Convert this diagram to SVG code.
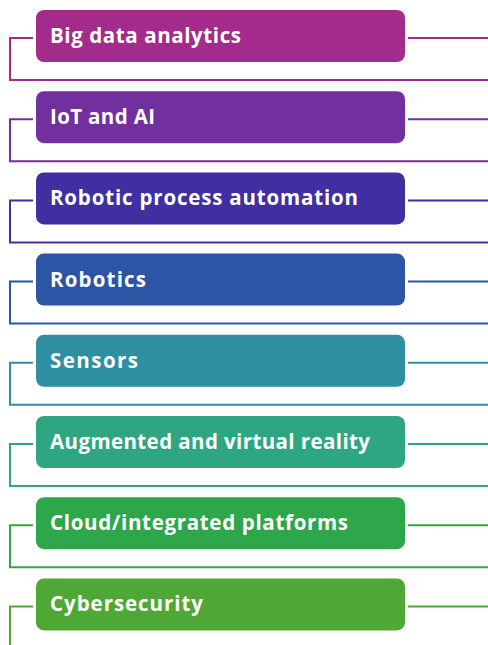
<svg xmlns="http://www.w3.org/2000/svg" width="488" height="645" viewBox="0 0 488 645">
  <style>
    .box { stroke: none; }
    .label { font-family: "Open Sans", "Liberation Sans", Arial, sans-serif; font-weight: bold; font-size: 20.5px; fill: #ffffff; }
    .wire { fill: none; stroke-width: 2; }
  </style>
  <rect width="488" height="645" fill="#ffffff"/>

  <!-- bracket connectors: left stub down to a full-width rule, plus a right tail -->
  <g id="connectors">
    <path class="wire" stroke="#A22B8C" d="M33 38 H10 V80 H488 M408 38 H488"/>
    <path class="wire" stroke="#72309E" d="M33 119.2 H10 V161.2 H488 M408 119.2 H488"/>
    <path class="wire" stroke="#3F2FA0" d="M33 200.4 H10 V242.4 H488 M408 200.4 H488"/>
    <path class="wire" stroke="#2D55A6" d="M33 281.6 H10 V323.6 H488 M408 281.6 H488"/>
    <path class="wire" stroke="#2E8FA3" d="M33 362.8 H10 V404.8 H488 M408 362.8 H488"/>
    <path class="wire" stroke="#2DA681" d="M33 444 H10 V486 H488 M408 444 H488"/>
    <path class="wire" stroke="#2EA64A" d="M33 525.2 H10 V567.2 H488 M408 525.2 H488"/>
    <path class="wire" stroke="#4FA835" d="M33 606.4 H10 V645 M408 606.4 H488"/>
  </g>

  <g id="big-data-analytics">
    <rect class="box" x="36" y="10" width="369" height="52" rx="8" fill="#A22B8C"/>
    <text class="label" x="50" y="43" textLength="191">Big data analytics</text>
  </g>
  <g id="iot-and-ai">
    <rect class="box" x="36" y="91.2" width="369" height="52" rx="8" fill="#72309E"/>
    <text class="label" x="50" y="124.2" textLength="105">IoT and AI</text>
  </g>
  <g id="robotic-process-automation">
    <rect class="box" x="36" y="172.4" width="369" height="52" rx="8" fill="#3F2FA0"/>
    <text class="label" x="50" y="205.4" textLength="308">Robotic process automation</text>
  </g>
  <g id="robotics">
    <rect class="box" x="36" y="253.6" width="369" height="52" rx="8" fill="#2D55A6"/>
    <text class="label" x="50" y="286.6" textLength="96">Robotics</text>
  </g>
  <g id="sensors">
    <rect class="box" x="36" y="334.8" width="369" height="52" rx="8" fill="#2E8FA3"/>
    <text class="label" x="50" y="367.8" textLength="88">Sensors</text>
  </g>
  <g id="augmented-virtual-reality">
    <rect class="box" x="36" y="416" width="369" height="52" rx="8" fill="#2DA681"/>
    <text class="label" x="50" y="449" textLength="320">Augmented and virtual reality</text>
  </g>
  <g id="cloud-platforms">
    <rect class="box" x="36" y="497.2" width="369" height="52" rx="8" fill="#2EA64A"/>
    <text class="label" x="50" y="530.2" textLength="298">Cloud/integrated platforms</text>
  </g>
  <g id="cybersecurity">
    <rect class="box" x="36" y="578.4" width="369" height="52" rx="8" fill="#4FA835"/>
    <text class="label" x="50" y="611.4" textLength="153">Cybersecurity</text>
  </g>
</svg>
